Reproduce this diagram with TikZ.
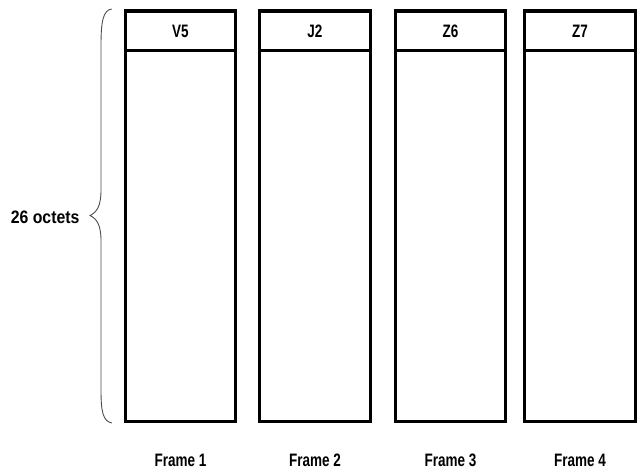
\documentclass[tikz,border=0pt]{standalone}
\usepackage{fontspec}
\setmainfont{Liberation Sans}
\newfontfamily\narrowbold[FakeStretch=0.75]{Liberation Sans}
\newfontfamily\semibold[FakeStretch=0.88]{Liberation Sans}
\begin{document}
\begin{tikzpicture}[x=1pt,y=-1pt,
  frame/.style={draw=black,line width=3pt,rectangle,inner sep=0pt},
  hdr/.style={font=\narrowbold\bfseries\fontsize{18}{20}\selectfont},
  framelabel/.style={font=\narrowbold\bfseries\fontsize{18}{20}\selectfont},
  bracepen/.style={draw=black!70,line width=0.9pt}]
\useasboundingbox (0,0) rectangle (641,469);
\foreach \i/\cx/\lab in {1/180.5/V5, 2/315/J2, 3/450.5/Z6, 4/580/Z7}{
  \node[frame,minimum width=110.5pt,minimum height=411pt] (body\i) at (\cx,216) {};
  \node[frame,minimum width=110.5pt,minimum height=39.5pt,hdr] (head\i) at (\cx,31) {\lab};
  \node[framelabel] (lab\i) at (\cx,460) {Frame \i};
}
\path (body1.north west) ++(-12,0) coordinate (bt);
\path (body1.south west) ++(-12,0) coordinate (bb);
\draw[bracepen] (bt) .. controls (103,10) and (101,22) .. (101,45)
  -- (101,190) .. controls (101,206) and (97,212) .. (90,215.5)
  .. controls (97,219) and (101,225) .. (101,241)
  -- (101,390) .. controls (101,412) and (103,421) .. (bb);
\node[font=\semibold\bfseries\fontsize{18}{20}\selectfont,anchor=east] (oct) at (83,217) {26 octets};
\end{tikzpicture}
\end{document}
